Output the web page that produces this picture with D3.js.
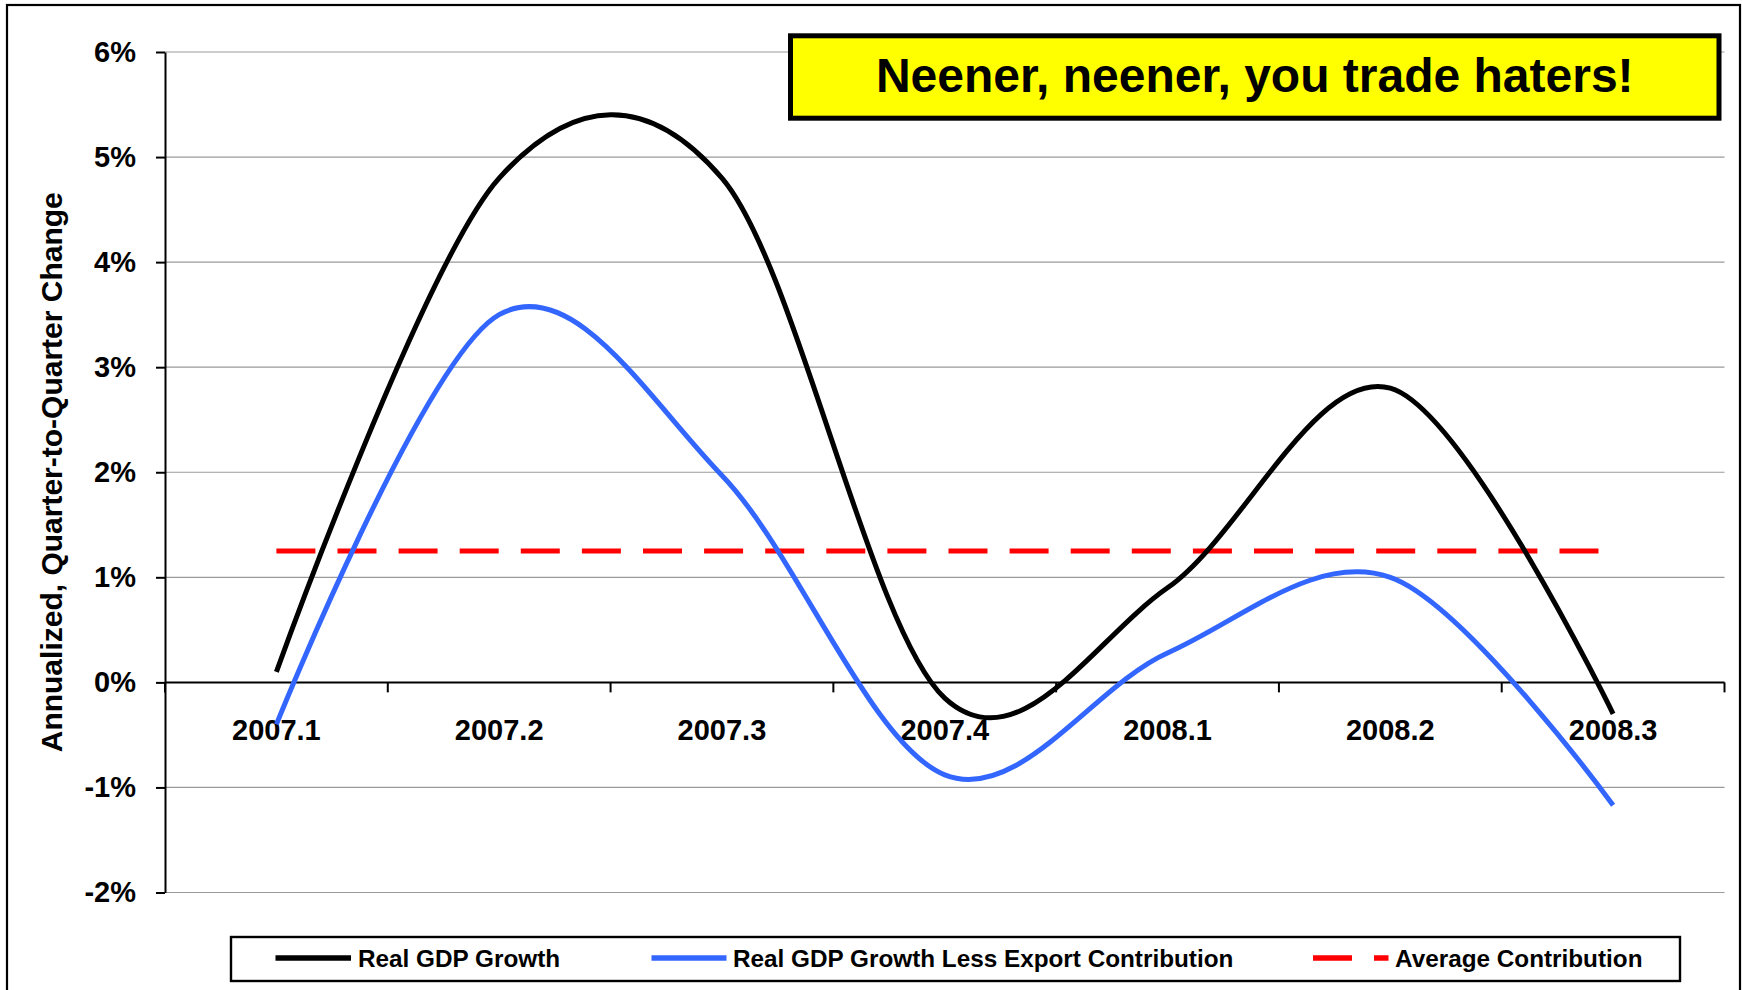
<!DOCTYPE html>
<html>
<head>
<meta charset="utf-8">
<script src="https://cdn.jsdelivr.net/npm/d3@7"></script>
<style>
  html, body { margin: 0; padding: 0; background: #ffffff; }
  svg { display: block; }
  text { font-family: "Liberation Sans", Arial, Helvetica, sans-serif; font-weight: bold; fill: #000; }
</style>
</head>
<body>
<svg id="chart" width="1742" height="990"></svg>
<script>
// ---- data ----
const categories = ["2007.1", "2007.2", "2007.3", "2007.4", "2008.1", "2008.2", "2008.3"];
const realGDP = [0.1, 4.8, 4.8, -0.15, 0.9, 2.8, -0.3];
const lessExport = [-0.4, 3.5, 1.97, -0.88, 0.28, 1.0, -1.17];
const avgContribution = [1.25, 1.25, 1.25, 1.25, 1.25, 1.25, 1.25];
const yTicks = [-2, -1, 0, 1, 2, 3, 4, 5, 6];
const seriesNames = ["Real GDP Growth", "Real GDP Growth Less Export Contribution", "Average Contribution"];
const titleText = "Neener, neener, you trade haters!";
const yAxisTitle = "Annualized, Quarter-to-Quarter Change";

// ---- layout ----
const svg = d3.select("#chart");
const W = 1742, H = 990;
const plot = { left: 165, right: 1724.5, top: 52, bottom: 892.5 };

const x = d3.scaleBand().domain(categories).range([plot.left, plot.right]).padding(0);
const y = d3.scaleLinear().domain([-2, 6]).range([plot.bottom, plot.top]);
const cx = c => x(c) + x.bandwidth() / 2;

svg.append("rect").attr("x", 0).attr("y", 0).attr("width", W).attr("height", H).attr("fill", "#fff");

// outer frame
svg.append("rect")
  .attr("x", 7).attr("y", 5).attr("width", 1733).attr("height", 1010)
  .attr("fill", "none").attr("stroke", "#000").attr("stroke-width", 2.2);

// gridlines
svg.append("g").selectAll("line")
  .data(yTicks.filter(d => d !== 0))
  .join("line")
  .attr("x1", plot.left).attr("x2", plot.right)
  .attr("y1", d => y(d)).attr("y2", d => y(d))
  .attr("stroke", "#9a9a9a").attr("stroke-width", 1.2);

// y axis
const yAxis = d3.axisLeft(y)
  .tickValues(yTicks)
  .tickSize(9)
  .tickSizeOuter(0)
  .tickPadding(20)
  .tickFormat(d => d + "%");
const gy = svg.append("g").attr("transform", `translate(${plot.left},0)`).call(yAxis);
gy.select(".domain").attr("stroke", "#000").attr("stroke-width", 2);
gy.selectAll(".tick line").attr("stroke", "#000").attr("stroke-width", 2);
gy.selectAll(".tick text")
  .attr("font-size", 29).attr("font-weight", "bold")
  .attr("font-family", "'Liberation Sans', Arial, sans-serif")
  .attr("fill", "#000");

// x axis at zero
const y0 = y(0);
const gx = svg.append("g");
gx.append("line")
  .attr("x1", plot.left).attr("x2", plot.right)
  .attr("y1", y0).attr("y2", y0)
  .attr("stroke", "#000").attr("stroke-width", 2);
const boundaries = categories.map(c => x(c)).concat([x.range()[1]]);
gx.selectAll("line.tk")
  .data(boundaries)
  .join("line").attr("class", "tk")
  .attr("x1", d => d).attr("x2", d => d)
  .attr("y1", y0).attr("y2", y0 + 10)
  .attr("stroke", "#000").attr("stroke-width", 2);
gx.selectAll("text")
  .data(categories)
  .join("text")
  .attr("x", d => cx(d))
  .attr("y", y0 + 58)
  .attr("text-anchor", "middle")
  .attr("font-size", 29)
  .text(d => d);

// y axis title
svg.append("text")
  .attr("transform", `translate(62, ${(plot.top + plot.bottom) / 2}) rotate(-90)`)
  .attr("text-anchor", "middle")
  .attr("font-size", 30)
  .text(yAxisTitle);

// series
const lineSmooth = d3.line()
  .x((d, i) => cx(categories[i]))
  .y(d => y(d))
  .curve(d3.curveCardinal.tension(0));
const lineStraight = d3.line()
  .x((d, i) => cx(categories[i]))
  .y(d => y(d));

svg.append("path")
  .datum(avgContribution)
  .attr("d", lineStraight)
  .attr("fill", "none")
  .attr("stroke", "#ff0000")
  .attr("stroke-width", 5)
  .attr("stroke-dasharray", "39,22.1");

svg.append("path")
  .datum(lessExport)
  .attr("d", lineSmooth)
  .attr("fill", "none")
  .attr("stroke", "#3366ff")
  .attr("stroke-width", 5)
  .attr("stroke-linejoin", "round");

svg.append("path")
  .datum(realGDP)
  .attr("d", lineSmooth)
  .attr("fill", "none")
  .attr("stroke", "#000")
  .attr("stroke-width", 5)
  .attr("stroke-linejoin", "round");

// title box
svg.append("rect")
  .attr("x", 790.5).attr("y", 35.8).attr("width", 928.5).attr("height", 82.4)
  .attr("fill", "#ffff00").attr("stroke", "#000").attr("stroke-width", 5);
svg.append("text")
  .attr("x", 790.5 + 928.5 / 2).attr("y", 92)
  .attr("text-anchor", "middle")
  .attr("font-size", 48)
  .text(titleText);

// legend
svg.append("rect")
  .attr("x", 231).attr("y", 937).attr("width", 1449).attr("height", 44)
  .attr("fill", "#fff").attr("stroke", "#000").attr("stroke-width", 2.4);
const legendItems = [
  { name: seriesNames[0], color: "#000", dash: null, x1: 275.5, x2: 351, tx: 358 },
  { name: seriesNames[1], color: "#3366ff", dash: null, x1: 651.5, x2: 726.5, tx: 733 },
  { name: seriesNames[2], color: "#ff0000", dash: "39,22", x1: 1313, x2: 1388.5, tx: 1395 }
];
const lg = svg.append("g").selectAll("g").data(legendItems).join("g");
lg.append("line")
  .attr("x1", d => d.x1).attr("x2", d => d.x2)
  .attr("y1", 958).attr("y2", 958)
  .attr("stroke", d => d.color).attr("stroke-width", 5.5)
  .attr("stroke-dasharray", d => d.dash);
lg.append("text")
  .attr("x", d => d.tx).attr("y", 966.5)
  .attr("font-size", 24.3)
  .text(d => d.name);
</script>
</body>
</html>
